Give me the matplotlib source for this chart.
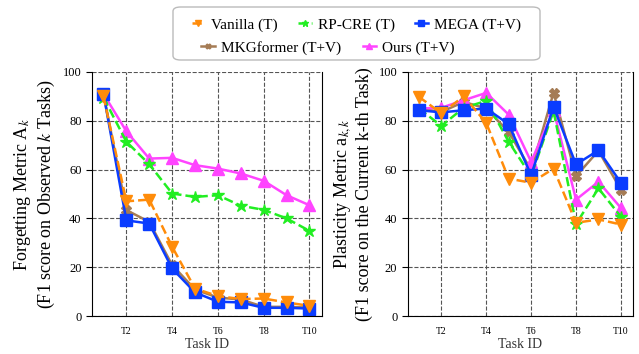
import numpy as np
import matplotlib
matplotlib.use("Agg")
import matplotlib.pyplot as plt
from matplotlib.patches import FancyBboxPatch

plt.rcParams["font.family"] = ["Liberation Serif", "DejaVu Serif"]
plt.rcParams["mathtext.fontset"] = "stix"

tasks = np.arange(1, 11)
xtick_pos = [2, 4, 6, 8, 10]
xtick_labels = ["T2", "T4", "T6", "T8", "T10"]

# Forgetting metric (left)
forget_vanilla = [90.0, 47.0, 47.7, 28.4, 11.3, 8.2, 7.0, 7.2, 5.6, 4.2]
forget_rpcre = [89.5, 71.4, 62.2, 50.2, 48.8, 49.5, 45.2, 43.5, 40.0, 34.9]
forget_mega = [91.1, 39.2, 37.9, 19.5, 9.7, 5.9, 5.6, 3.4, 3.4, 3.1]
forget_mkg = [91.0, 43.4, 38.6, 20.9, 10.9, 7.6, 6.8, 3.8, 3.8, 3.5]
forget_ours = [91.0, 75.7, 64.5, 64.8, 61.8, 60.4, 58.4, 55.4, 49.5, 45.4]

# Plasticity metric (right)
plast_vanilla = [89.8, 83.0, 90.0, 79.1, 56.3, 54.6, 60.4, 38.2, 39.6, 37.5]
plast_rpcre = [85.0, 77.9, 85.3, 88.1, 71.4, 57.3, 84.0, 37.7, 52.3, 40.7]
plast_mega = [84.3, 83.4, 84.3, 85.0, 78.6, 57.7, 85.7, 62.1, 67.9, 54.6]
plast_mkg = [85.0, 83.6, 87.7, 85.0, 75.4, 59.8, 91.5, 57.3, 67.7, 51.8]
plast_ours = [85.0, 85.3, 88.4, 91.4, 82.5, 63.2, 84.3, 47.7, 55.0, 44.3]

styles = {
    "MKGformer (T+V)": dict(color="#A57C55", marker="X", ls="-", ms=7),
    "Ours (T+V)": dict(color="#FF44FF", marker="^", ls="-", ms=8),
    "RP-CRE (T)": dict(color="#22EE22", marker="*", ls="--", ms=9),
    "MEGA (T+V)": dict(color="#0A3CFF", marker="s", ls="-", ms=8),
    "Vanilla (T)": dict(color="#FF8C0A", marker="v", ls="--", ms=8),
}

fig = plt.figure(figsize=(6.39, 3.54), dpi=100)
ax1 = fig.add_axes([0.144, 0.107, 0.360, 0.690])
ax2 = fig.add_axes([0.638, 0.107, 0.353, 0.690])

left = {"Vanilla (T)": forget_vanilla, "RP-CRE (T)": forget_rpcre,
        "MEGA (T+V)": forget_mega, "MKGformer (T+V)": forget_mkg,
        "Ours (T+V)": forget_ours}
right = {"Vanilla (T)": plast_vanilla, "RP-CRE (T)": plast_rpcre,
         "MEGA (T+V)": plast_mega, "MKGformer (T+V)": plast_mkg,
         "Ours (T+V)": plast_ours}

handles = {}
for ax, data in [(ax1, left), (ax2, right)]:
    for name, st in styles.items():
        h, = ax.plot(tasks, data[name], color=st["color"], marker=st["marker"],
                     linestyle=st["ls"], markersize=st["ms"], linewidth=1.8,
                     label=name)
        handles[name] = h
    ax.set_xlim(0.5, 10.55)
    ax.set_ylim(0, 100)
    ax.set_yticks([0, 20, 40, 60, 80, 100])
    ax.set_xticks(xtick_pos)
    ax.set_xticklabels(xtick_labels, fontsize=7)
    ax.tick_params(axis="x", length=0, pad=8)
    ax.tick_params(axis="y", labelsize=9, length=4, direction="out")
    ax.grid(True, linestyle="--", color="#555555", linewidth=0.8)
    ax.set_axisbelow(True)
    ax.spines["top"].set_visible(False)
    ax.set_xlabel("Task ID", fontsize=10, color="#333333", labelpad=1)

ax1.set_ylabel("Forgetting Metric A$_k$\n(F1 score on Observed $k$ Tasks)", fontsize=13)
ax2.set_ylabel("Plasticity Metric a$_{k,k}$\n(F1 score on the Current k-th Task)", fontsize=13)

# legend: frame + two centred rows
W, H = 639, 354
frame = FancyBboxPatch((173 / W, 1 - 60 / H), 367 / W, 53 / H,
                       boxstyle="round,pad=0,rounding_size=0.012",
                       transform=fig.transFigure, facecolor="white",
                       edgecolor="#BBBBBB", linewidth=1.0, zorder=5)
fig.add_artist(frame)

leg_kw = dict(loc="center", frameon=False, fontsize=11, handlelength=0.9,
              handletextpad=0.4, markerscale=0.5, borderpad=0, borderaxespad=0)
row1 = ["Vanilla (T)", "RP-CRE (T)", "MEGA (T+V)"]
row2 = ["MKGformer (T+V)", "Ours (T+V)"]
leg1 = fig.legend([handles[n] for n in row1], row1, ncol=3,
                  bbox_to_anchor=(356.5 / W, 1 - 25 / H), columnspacing=1.3, **leg_kw)
leg2 = fig.legend([handles[n] for n in row2], row2, ncol=2,
                  bbox_to_anchor=(328 / W, 1 - 48 / H), columnspacing=1.4, **leg_kw)
leg1.set_zorder(6)
leg2.set_zorder(6)

fig.savefig("out.png", dpi=100)
